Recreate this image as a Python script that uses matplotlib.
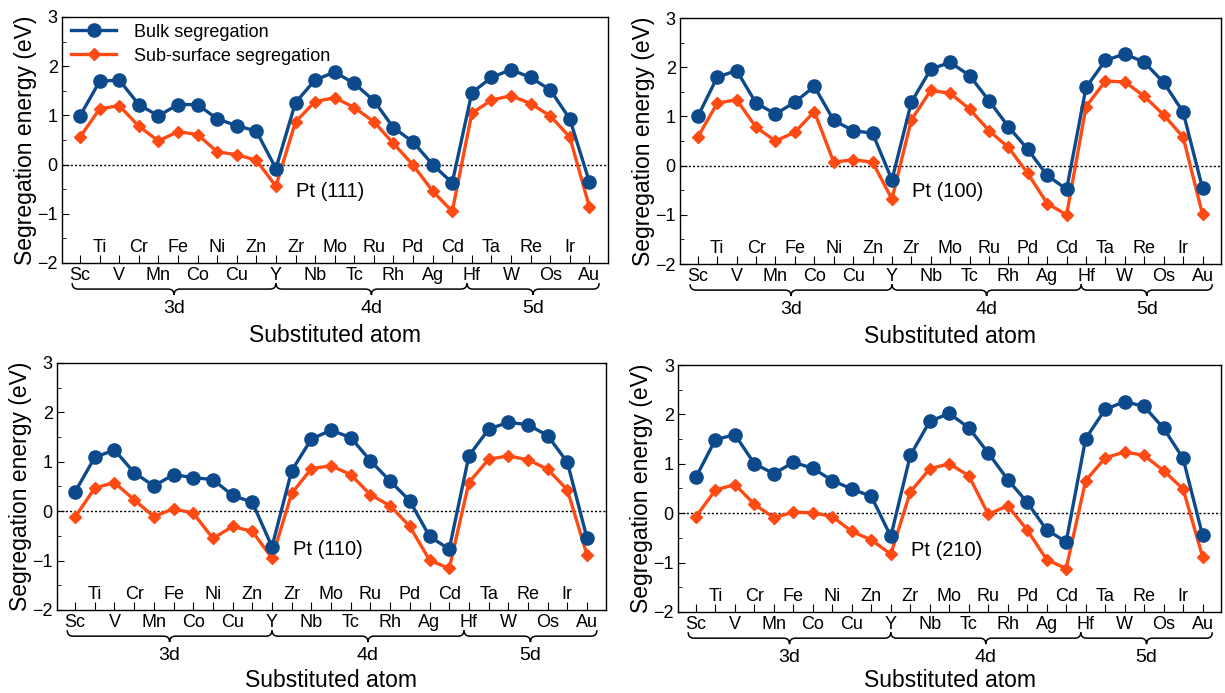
import matplotlib
matplotlib.use('Agg')
import matplotlib.pyplot as plt
from matplotlib.path import Path
from matplotlib.patches import PathPatch
from matplotlib.ticker import MultipleLocator

plt.rcParams['font.family'] = ['Liberation Sans', 'DejaVu Sans']

elements = ['Sc', 'Ti', 'V', 'Cr', 'Mn', 'Fe', 'Co', 'Ni', 'Cu', 'Zn',
            'Y', 'Zr', 'Nb', 'Mo', 'Tc', 'Ru', 'Rh', 'Pd', 'Ag', 'Cd',
            'Hf', 'Ta', 'W', 'Re', 'Os', 'Ir', 'Au']
groups = ['3d', '4d', '5d']
surfaces = ['Pt (111)', 'Pt (100)', 'Pt (110)', 'Pt (210)']

bulk_111 = [0.99, 1.69, 1.72, 1.22, 0.99, 1.22, 1.22, 0.93, 0.79, 0.68,
            -0.08, 1.26, 1.72, 1.88, 1.65, 1.30, 0.75, 0.46, 0.00, -0.37,
            1.46, 1.77, 1.93, 1.77, 1.52, 0.93, -0.35]
sub_111 = [0.56, 1.13, 1.20, 0.78, 0.48, 0.67, 0.61, 0.26, 0.20, 0.09,
           -0.44, 0.87, 1.28, 1.36, 1.16, 0.87, 0.43, -0.01, -0.54, -0.95,
           1.04, 1.31, 1.40, 1.24, 0.99, 0.56, -0.86]

bulk_100 = [1.00, 1.80, 1.93, 1.27, 1.05, 1.29, 1.61, 0.92, 0.71, 0.66,
            -0.29, 1.29, 1.96, 2.10, 1.83, 1.32, 0.79, 0.33, -0.20, -0.48,
            1.59, 2.14, 2.27, 2.10, 1.69, 1.09, -0.46]
sub_100 = [0.58, 1.27, 1.34, 0.78, 0.50, 0.68, 1.10, 0.07, 0.12, 0.07,
           -0.68, 0.93, 1.53, 1.47, 1.15, 0.71, 0.37, -0.16, -0.77, -1.00,
           1.20, 1.72, 1.70, 1.41, 1.03, 0.58, -0.99]

bulk_110 = [0.39, 1.09, 1.24, 0.78, 0.51, 0.74, 0.68, 0.64, 0.32, 0.18,
            -0.72, 0.82, 1.46, 1.64, 1.49, 1.02, 0.61, 0.21, -0.51, -0.77,
            1.12, 1.66, 1.80, 1.75, 1.53, 0.99, -0.55]
sub_110 = [-0.12, 0.47, 0.58, 0.23, -0.11, 0.05, -0.04, -0.55, -0.31, -0.41,
           -0.95, 0.36, 0.86, 0.92, 0.74, 0.33, 0.11, -0.31, -0.99, -1.16,
           0.58, 1.05, 1.12, 1.04, 0.85, 0.43, -0.89]

bulk_210 = [0.73, 1.49, 1.59, 1.00, 0.80, 1.03, 0.91, 0.66, 0.49, 0.34,
            -0.47, 1.17, 1.86, 2.02, 1.73, 1.22, 0.68, 0.22, -0.34, -0.58,
            1.51, 2.10, 2.26, 2.16, 1.72, 1.11, -0.45]
sub_210 = [-0.07, 0.47, 0.58, 0.18, -0.09, 0.02, 0.01, -0.07, -0.37, -0.54,
           -0.83, 0.43, 0.90, 1.00, 0.76, -0.02, 0.15, -0.34, -0.94, -1.12,
           0.66, 1.12, 1.24, 1.17, 0.86, 0.49, -0.88]

bulk_all = [bulk_111, bulk_100, bulk_110, bulk_210]
sub_all = [sub_111, sub_100, sub_110, sub_210]

BLUE = '#0d4a8c'
ORANGE = '#ff4a14'

# axes rectangles in figure fractions (left, bottom, width, height)
rects = [(0.0506, 0.6205, 0.4457, 0.3550),
         (0.5551, 0.6190, 0.4416, 0.3550),
         (0.0465, 0.1198, 0.4480, 0.3564),
         (0.5535, 0.1169, 0.4433, 0.3564)]
label_y = [-0.55, -0.53, -0.78, -0.75]
xlab_y = [-0.295, -0.295, -0.285, -0.278]

brace_spans = [(-0.4, 10.0), (10.0, 19.75), (19.75, 26.5)]


def draw_brace(ax, x0, x1, yb, h=0.12, r=0.3):
    xm = (x0 + x1) / 2
    verts = [(x0, yb + h), (x0, yb), (x0 + r, yb),
             (xm - r, yb), (xm, yb), (xm, yb - h),
             (xm, yb), (xm + r, yb),
             (x1 - r, yb), (x1, yb), (x1, yb + h)]
    codes = [Path.MOVETO, Path.CURVE3, Path.CURVE3,
             Path.LINETO, Path.CURVE3, Path.CURVE3,
             Path.CURVE3, Path.CURVE3,
             Path.LINETO, Path.CURVE3, Path.CURVE3]
    patch = PathPatch(Path(verts, codes), fill=False, lw=1.1, color='black',
                      clip_on=False)
    ax.add_patch(patch)
    return xm


fig = plt.figure(figsize=(12.25, 6.93), dpi=100)

for k in range(4):
    ax = fig.add_axes(rects[k])
    x = list(range(len(elements)))
    ax.axhline(0, color='black', lw=1.0, ls=(0, (1.5, 1.5)), zorder=1)
    ax.plot(x, bulk_all[k], '-o', color=BLUE, lw=2.4, ms=9.5,
            label='Bulk segregation', zorder=3)
    ax.plot(x, sub_all[k], '-D', color=ORANGE, lw=2.4, ms=6.5,
            label='Sub-surface segregation', zorder=2)

    ax.set_xlim(-0.92, 26.95)
    ax.set_ylim(-2, 3)
    ax.yaxis.set_major_locator(MultipleLocator(1))
    ax.yaxis.set_minor_locator(MultipleLocator(0.5))
    ax.tick_params(axis='y', which='both', direction='in', labelsize=13,
                   right=False, pad=3)
    ax.tick_params(axis='y', which='major', length=5)
    ax.tick_params(axis='y', which='minor', length=3)
    ax.set_xticks(x)
    ax.set_xticklabels([e if i % 2 == 0 else '' for i, e in enumerate(elements)])
    ax.tick_params(axis='x', direction='in', length=6, labelsize=13, pad=3,
                   top=False)
    for i, e in enumerate(elements):
        if i % 2 == 1:
            ax.text(i, -1.68, e, ha='center', va='center', fontsize=13)

    for sp in ax.spines.values():
        sp.set_linewidth(1.0)

    for (x0, x1), g in zip(brace_spans, groups):
        xm = draw_brace(ax, x0, x1, -2.53)
        ax.text(xm, -2.93, g, ha='center', va='center', fontsize=14)

    ax.text(0.5, xlab_y[k], 'Substituted atom', transform=ax.transAxes,
            ha='center', va='center', fontsize=16.5)
    ax.set_ylabel('Segregation energy (eV)', fontsize=16.5)
    ax.yaxis.set_label_coords(-0.046, 0.5)

    ax.text(11.05, label_y[k], surfaces[k], ha='left', va='center', fontsize=14.5)

    if k == 0:
        ax.legend(loc='upper left', frameon=False, fontsize=13,
                  handlelength=2.5, handletextpad=1.0, borderaxespad=0.1,
                  labelspacing=0.4, bbox_to_anchor=(0.0, 1.01))

fig.savefig('out.png', dpi=100)
